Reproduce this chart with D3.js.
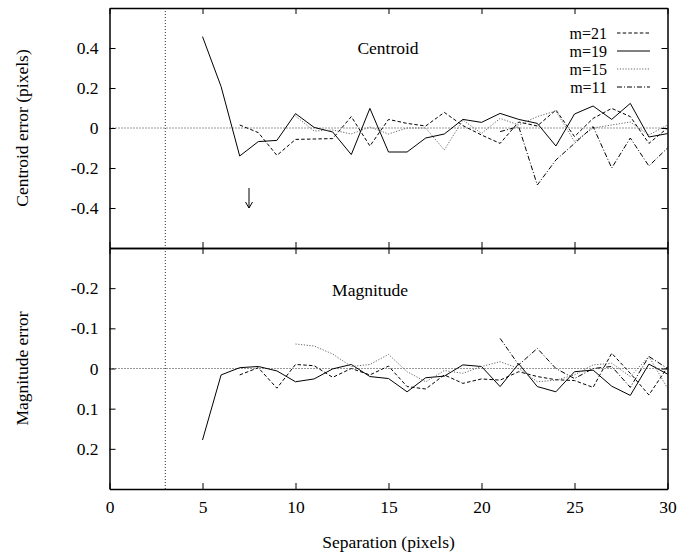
<!DOCTYPE html>
<html><head><meta charset="utf-8">
<script src="https://cdn.jsdelivr.net/npm/d3@7"></script>
<style>
html,body{margin:0;padding:0;background:#fff;}
svg text{font-family:"Liberation Serif","Times New Roman",serif;font-size:17.5px;fill:#000;}
svg text.legend{font-size:16px;}
</style></head>
<body>
<svg id="chart" width="696" height="552"></svg>
<script>
// ---------- data ----------
const xStart19 = 5, xStart21 = 7, xStart15 = 10, xStart11 = 21;
const seriesNames = ["m=21", "m=19", "m=15", "m=11"];
const seriesStarts = [xStart21, xStart19, xStart15, xStart11];

// Centroid error (pixels)
const centroid21 = [0.015,-0.023,-0.137,-0.057,-0.055,-0.053,0.057,-0.09,0.043,0.023,0.01,0.078,0.012,-0.035,-0.077,0.03,0.01,0.09,-0.043,0.048,0.098,0.057,-0.077,0.0];
const centroid19 = [0.457,0.207,-0.14,-0.068,-0.062,0.072,0.003,-0.02,-0.133,0.098,-0.12,-0.12,-0.05,-0.03,0.043,0.028,0.073,0.043,0.023,-0.09,0.07,0.11,0.043,0.123,-0.045,-0.028];
const centroid15 = [0.06,-0.015,-0.01,-0.03,0.005,-0.03,0.0,0.0,-0.11,0.04,-0.027,0.048,0.015,0.057,0.085,-0.068,0.0,0.015,0.03,-0.035,0.015];
const centroid11 = [-0.018,0.007,-0.285,-0.16,-0.077,0.007,-0.2,-0.05,-0.19,-0.1];

// Magnitude error
const magnitude21 = [0.016,-0.002,0.049,-0.01,-0.007,0.022,0.0,0.016,-0.006,0.045,0.051,0.016,0.037,0.026,0.029,0.008,0.02,0.028,0.03,0.047,-0.038,0.012,0.066,-0.003];
const magnitude19 = [0.178,0.016,-0.002,-0.005,0.006,0.033,0.026,0.001,-0.01,0.02,0.025,0.058,0.023,0.019,-0.009,-0.005,0.045,-0.012,0.045,0.058,0.008,0.004,0.044,0.067,-0.011,0.014];
const magnitude15 = [-0.061,-0.056,-0.036,-0.005,-0.01,-0.035,0.008,0.033,0.005,0.012,-0.005,-0.017,0.0,0.033,0.029,0.016,-0.009,-0.013,0.02,-0.03,0.049];
const magnitude11 = [-0.075,-0.009,-0.05,0.0,0.025,0.0,-0.005,0.047,-0.03,0.0];

const xTicks = [0,5,10,15,20,25,30];
const topTicks = [-0.4,-0.2,0,0.2,0.4];
const bottomTicks = [-0.2,-0.1,0,0.1,0.2];
const xDomain = [0,30];
const topDomain = [-0.6,0.6];
const bottomDomain = [-0.3,0.3];
const separationLimit = 3;
const arrowX = 7.5, arrowFrom = -0.3, arrowTo = -0.4;

// ---------- styles ----------
const FONT = '"Liberation Serif", "Times New Roman", serif';
const styles = [
  {dash:"3.5,2.2", color:"#000"},
  {dash:null, color:"#000"},
  {dash:"1.2,1.6", color:"#666"},
  {dash:"5,2,1,2", color:"#000"}
];

// ---------- layout ----------
const svg = d3.select("#chart");
const left = 109.5, right = 667.5;
const topY0 = 8, midY = 248, botY1 = 489;

const x = d3.scaleLinear().domain(xDomain).range([left,right]);
const yTop = d3.scaleLinear().domain(topDomain).range([midY, topY0]);
const yBot = d3.scaleLinear().domain(bottomDomain).range([midY, botY1]);

const fmt = v => v === 0 ? "0" : String(v);

function toPoints(vals, start){ return vals.map((v,i)=>[start+i, v]); }

// reference dotted lines
svg.append("line").attr("x1",x(separationLimit)).attr("x2",x(separationLimit))
  .attr("y1",topY0).attr("y2",botY1).attr("stroke","#333").attr("stroke-width",1).attr("stroke-dasharray","1,2");
[yTop, yBot].forEach(ys=>{
  svg.append("line").attr("x1",x(xDomain[0])).attr("x2",x(xDomain[1]))
    .attr("y1",ys(0)).attr("y2",ys(0)).attr("stroke","#333").attr("stroke-width",1).attr("stroke-dasharray","1,2");
});

// series
const topData = [centroid21, centroid19, centroid15, centroid11];
const botData = [magnitude21, magnitude19, magnitude15, magnitude11];
function drawSeries(data, ys){
  const line = d3.line().x(d=>x(d[0])).y(d=>ys(d[1]));
  data.forEach((vals,i)=>{
    svg.append("path").datum(toPoints(vals, seriesStarts[i]))
      .attr("d", line).attr("fill","none")
      .attr("stroke", styles[i].color).attr("stroke-width",1)
      .attr("stroke-dasharray", styles[i].dash);
  });
}
drawSeries(topData, yTop);
drawSeries(botData, yBot);

// axes
function styleAxis(g, sw){
  g.attr("font-family",FONT).attr("font-size",17.5);
  g.selectAll("text").style("font-family",FONT).style("font-size","17.5px").attr("fill","#000");
  g.select(".domain").attr("stroke","#000").attr("stroke-width",sw);
  g.selectAll(".tick line").attr("stroke","#000").attr("stroke-width",1);
}
let g;
// top panel
g = svg.append("g").attr("transform",`translate(${left},0)`)
  .call(d3.axisLeft(yTop).tickValues(topTicks).tickSize(-6).tickSizeOuter(0).tickPadding(11).tickFormat(fmt));
styleAxis(g,1.5);
g = svg.append("g").attr("transform",`translate(${right},0)`)
  .call(d3.axisRight(yTop).tickValues(topTicks).tickSize(-6).tickSizeOuter(0).tickFormat(""));
styleAxis(g,1.5);
g = svg.append("g").attr("transform",`translate(0,${topY0})`)
  .call(d3.axisTop(x).tickValues(xTicks).tickSize(-6).tickSizeOuter(0).tickFormat(""));
styleAxis(g,1.5);
g = svg.append("g").attr("transform",`translate(0,${midY})`)
  .call(d3.axisBottom(x).tickValues(xTicks).tickSize(-6).tickSizeOuter(0).tickFormat(""));
styleAxis(g,1.5);
// bottom panel
g = svg.append("g").attr("transform",`translate(${left},0)`)
  .call(d3.axisLeft(yBot).tickValues(bottomTicks).tickSize(-6).tickSizeOuter(0).tickPadding(11).tickFormat(fmt));
styleAxis(g,1.5);
g = svg.append("g").attr("transform",`translate(${right},0)`)
  .call(d3.axisRight(yBot).tickValues(bottomTicks).tickSize(-6).tickSizeOuter(0).tickFormat(""));
styleAxis(g,1.5);
g = svg.append("g").attr("transform",`translate(0,${midY})`)
  .call(d3.axisTop(x).tickValues(xTicks).tickSize(-6).tickSizeOuter(0).tickFormat(""));
styleAxis(g,1.5);
g = svg.append("g").attr("transform",`translate(0,${botY1})`)
  .call(d3.axisBottom(x).tickValues(xTicks).tickSize(-6).tickSizeOuter(0).tickPadding(11.5).tickFormat(fmt));
styleAxis(g,1.5);

// titles
svg.append("text").attr("x",(left+right)/2).attr("y",548).attr("text-anchor","middle").text("Separation (pixels)");
svg.append("text").attr("transform",`translate(28,${yTop(0)}) rotate(-90)`).attr("text-anchor","middle").text("Centroid error (pixels)");
svg.append("text").attr("transform",`translate(28,${yBot(0)}) rotate(-90)`).attr("text-anchor","middle").text("Magnitude error");
svg.append("text").attr("x",388).attr("y",54).attr("text-anchor","middle").text("Centroid");
svg.append("text").attr("x",370).attr("y",296).attr("text-anchor","middle").text("Magnitude");

// legend
seriesNames.forEach((name,i)=>{
  const cy = 33 + i*18;
  svg.append("text").attr("class","legend").attr("x",607).attr("y",cy+5.5).attr("text-anchor","end").text(name);
  svg.append("line").attr("x1",617).attr("x2",650).attr("y1",cy).attr("y2",cy)
    .attr("stroke",styles[i].color).attr("stroke-width",1).attr("stroke-dasharray",styles[i].dash);
});

// arrow annotation
const ax = x(arrowX), ay1 = yTop(arrowFrom), ay2 = yTop(arrowTo);
svg.append("line").attr("x1",ax).attr("x2",ax).attr("y1",ay1).attr("y2",ay2).attr("stroke","#000").attr("stroke-width",1);
svg.append("path").attr("d",`M${ax-3.5},${ay2-6}L${ax},${ay2}L${ax+3.5},${ay2-6}`).attr("fill","none").attr("stroke","#000").attr("stroke-width",1);
</script>
</body></html>
